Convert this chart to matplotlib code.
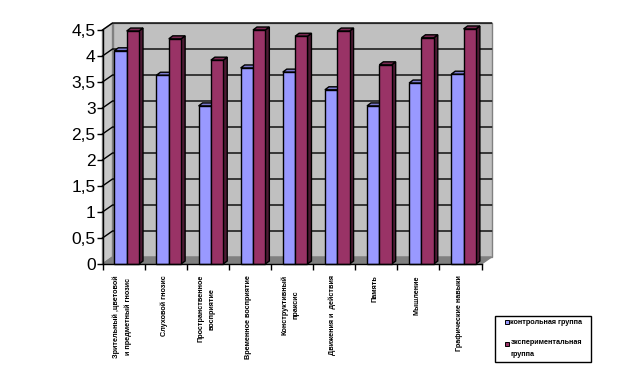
import numpy as np
import matplotlib
matplotlib.use('Agg')
import matplotlib.pyplot as plt
from matplotlib.patches import Polygon, Rectangle

plt.rcParams['font.family'] = ['Liberation Sans', 'DejaVu Sans']

categories = ['Зрительный ,цветовой\nи предметный гнозис', 'Слуховой гнозис',
              'Пространственное\nвосприятие', 'Временное восприятие',
              'Конструктивный\nпраксис', 'Движения и  действия', 'Память',
              'Мышление', 'Графические навыки']
control = [4.1, 3.63, 3.04, 3.77, 3.69, 3.35, 3.04, 3.48, 3.65]
experiment = [4.48, 4.33, 3.92, 4.5, 4.38, 4.48, 3.83, 4.35, 4.52]
yticks = [0, 0.5, 1, 1.5, 2, 2.5, 3, 3.5, 4, 4.5]
series_names = ['контрольная группа', 'экспериментальная\nгруппа']

W, H = 625, 369
fig = plt.figure(figsize=(W / 100, H / 100), dpi=100)
ax = fig.add_axes([102.5 / W, 1 - 264 / H, 379 / W, 234 / H])
ax.set_xlim(0, 9)
ax.set_ylim(0, 4.5)
for s in ax.spines.values():
    s.set_visible(False)
ax.patch.set_alpha(0)

# depth of the fake 3d box, in data units
dx = 10 / 42
dy = 7 / 52
# depth of the bars
bx = 4 / 42
by = 3 / 52

# walls and floor
ax.add_patch(Polygon([[dx, dy], [9 + dx, dy], [9 + dx, 4.5 + dy], [dx, 4.5 + dy]],
                     fc='#c0c0c0', ec='#808080', lw=1, clip_on=False, zorder=1))
ax.add_patch(Polygon([[0, 0], [dx, dy], [dx, 4.5 + dy], [0, 4.5]],
                     fc='#c8c8c8', ec='#808080', lw=1, clip_on=False, zorder=1))
ax.add_patch(Polygon([[0, 0], [9, 0], [9 + dx, dy], [dx, dy]],
                     fc='#808080', ec='#808080', lw=1, clip_on=False, zorder=1))

for t in yticks[1:]:
    ax.plot([0, dx, 9 + dx], [t, t + dy, t + dy], color='black', lw=1, clip_on=False, zorder=2)

w = 12.3 / 42
x0 = np.arange(9) + 11.8 / 42
colors = [('#9999ff', '#7a7acc', '#4d4d80'), ('#993366', '#7a2952', '#4d1a33')]
for k, vals in enumerate([control, experiment]):
    face, top, side = colors[k]
    for x, v in zip(x0 + k * w, vals):
        z = 3 + k * 0.1
        ax.add_patch(Polygon([[x + w, 0], [x + w + bx, by], [x + w + bx, v + by], [x + w, v]],
                             fc=side, ec='black', lw=1, clip_on=False, zorder=z))
        ax.add_patch(Polygon([[x, v], [x + w, v], [x + w + bx, v + by], [x + bx, v + by]],
                             fc=top, ec='black', lw=1, clip_on=False, zorder=z))
    ax.bar(x0 + k * w, vals, width=w, align='edge', color=face, edgecolor='black',
           linewidth=1, clip_on=False, zorder=3.5 + k * 0.1)

ax.plot([0, 0], [0, 4.5], color='black', lw=1, clip_on=False, zorder=5)
ax.plot([0, 9], [0, 0], color='black', lw=1, clip_on=False, zorder=5)

ax.set_yticks(yticks)
ax.set_yticklabels([str(t).replace('.', ',') for t in yticks], fontsize=12.5)
ax.set_xticks(np.arange(10))
ax.set_xticklabels([])
ax.tick_params(axis='both', length=4, width=1, color='black', pad=1)

for i, name in enumerate(categories):
    ax.annotate(name, (i + 0.5, 0), xytext=(-1, -8), textcoords='offset points',
                rotation=90, ha='center', va='top', fontsize=5.2, fontweight='bold',
                linespacing=1.75, multialignment='center', annotation_clip=False)

# legend box, in figure pixels
fig.add_artist(Rectangle((494.5 / W, 1 - 362 / H), 96 / W, 46 / H, fc='white', ec='black', lw=1,
                         transform=fig.transFigure))
fig.add_artist(Rectangle((505 / W, 1 - 324 / H), 4 / W, 4 / H, fc=colors[0][0], ec='black', lw=0.7,
                         transform=fig.transFigure))
fig.add_artist(Rectangle((505 / W, 1 - 346 / H), 4 / W, 4 / H, fc=colors[1][0], ec='black', lw=0.7,
                         transform=fig.transFigure))
fig.text(510.5 / W, 1 - 322 / H, series_names[0], fontsize=5.2, fontweight='bold', va='center')
fig.text(510.5 / W, 1 - 348.5 / H, series_names[1], fontsize=5.2, fontweight='bold', va='center', linespacing=2.0)

fig.savefig('out.png', dpi=100)
